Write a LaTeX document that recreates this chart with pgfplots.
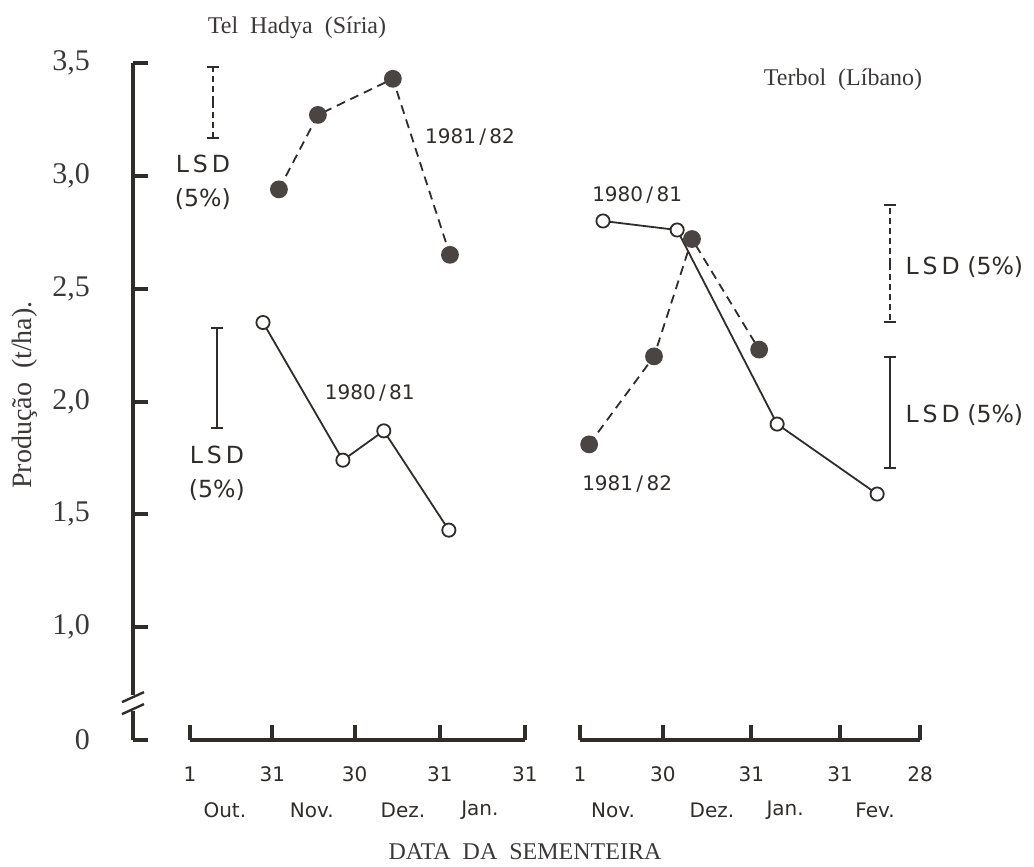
\documentclass[border=0pt]{standalone}
\usepackage{fontspec}
\setmainfont{Liberation Serif}
\newfontfamily\dinfont{DejaVu Sans}
\usepackage{pgfplots}
\pgfplotsset{compat=1.18}
\definecolor{ink}{HTML}{302C2A}
\definecolor{dot}{HTML}{4A4542}
\definecolor{lab}{HTML}{3C3838}

\tikzset{lbl/.style={font=\dinfont\fontsize{10}{12}\selectfont, text=ink},
         lsdl/.style={font=\dinfont\fontsize{11.8}{17}\selectfont, text=ink}}
\pgfplotsset{
  myaxis/.style={
    scale only axis, height=338.5pt, ymin=0.5, ymax=3.5, clip=false,
    axis x line=bottom, axis y line=left, axis line style={draw=none},
    tick align=inside, major tick length=7.5pt,
    tick style={ink, line width=2pt},
    xticklabel style={font=\dinfont\fontsize{10}{12}\selectfont, text=ink, yshift=-10pt},
    yticklabel style={font=\fontsize{15}{18}\selectfont, text=lab, xshift=-18pt},
  },
  openser/.style={ink, line width=0.9pt, mark=*, mark size=3.3pt, mark options={fill=white, draw=ink, solid}},
  fillser/.style={ink, line width=0.9pt, dash pattern=on 4.5pt off 3pt, mark=*, mark size=4pt, mark options={fill=dot, draw=dot, solid}},
  lsd/.style={draw=none, mark=none, error bars/.cd, y dir=both, y explicit,
     error bar style={draw=ink, line width=1pt, #1},
     error mark=-,
     error mark options={draw=ink, line width=1pt, solid, rotate=90, mark size=3pt}},
}

\begin{document}
\begin{tikzpicture}
\path (0,0) rectangle (517pt,432.5pt);

% ---------------- Left panel: Tel Hadya ----------------
\begin{axis}[myaxis, at={(66.5pt,62.5pt)}, anchor=south west, width=203.5pt,
  xmin=-20.76, xmax=127.5,
  xtick={0,30,60,91,122}, xticklabels={1,31,30,31,31},
  ytick={0.5,1,1.5,2,2.5,3,3.5},
  yticklabels={0,{1,0},{1,5},{2,0},{2,5},{3,0},{3,5}},
]
% axis lines with break
\draw[ink, line width=2pt] (axis cs:-20.76,3.5) -- (axis cs:-20.76,0.70);
\draw[ink, line width=1.2pt] ([shift={(-5.5pt,-2.5pt)}]axis cs:-20.76,0.69) -- ([shift={(5.5pt,2.5pt)}]axis cs:-20.76,0.69);
\draw[ink, line width=1.2pt] ([shift={(-5.5pt,-2.5pt)}]axis cs:-20.76,0.637) -- ([shift={(5.5pt,2.5pt)}]axis cs:-20.76,0.637);
\draw[ink, line width=2pt] (axis cs:-20.76,0.63) -- (axis cs:-20.76,0.5);
\draw[ink, line width=2pt] (axis cs:0,0.5) -- (axis cs:122,0.5);

\addplot[openser] coordinates {(26.6,2.35) (55.7,1.74) (70.6,1.87) (94.3,1.43)};
\addplot[fillser] coordinates {(32.4,2.94) (46.6,3.27) (73.9,3.43) (94.7,2.65)};

\addplot[lsd={dash pattern=on 3pt off 2pt}] coordinates {(8.4,3.325) +- (0,0.157)};
\addplot[lsd={solid}] coordinates {(9.8,2.104) +- (0,0.222)};

\node[lsdl, align=center] at (axis cs:4.7,2.97) {L\,S\,D\\(5\%)};
\node[lsdl, align=center] at (axis cs:9.8,1.683) {L\,S\,D\\(5\%)};
\node[lbl] at (axis cs:102,3.172) {1981\,/\,82};
\node[lbl] at (axis cs:65.5,2.037) {1980\,/\,81};

\node[lbl] at (axis cs:12.7,0.19) {Out.};
\node[lbl] at (axis cs:44.4,0.19) {Nov.};
\node[lbl] at (axis cs:77.6,0.19) {Dez.};
\node[lbl] at (axis cs:105.6,0.19) {Jan.};
\end{axis}

% ---------------- Right panel: Terbol ----------------
\begin{axis}[myaxis, at={(280pt,62.5pt)}, anchor=south west, width=190pt,
  xmin=-7, xmax=126,
  xtick={0,29,60,91,119}, xticklabels={1,30,31,31,28},
  ytick=\empty,
]
\draw[ink, line width=2pt] (axis cs:0,0.5) -- (axis cs:119,0.5);

\addplot[openser] coordinates {(8.05,2.80) (34.0,2.76) (69.0,1.90) (104,1.59)};
\addplot[fillser] coordinates {(3.2,1.81) (25.9,2.20) (39.2,2.72) (62.7,2.23)};

\addplot[lsd={dash pattern=on 3pt off 2pt}] coordinates {(108.5,2.611) +- (0,0.259)};
\addplot[lsd={solid}] coordinates {(108.5,1.951) +- (0,0.246)};

\node[lsdl, anchor=west] at (axis cs:111.5,2.596) {L\,S\,D (5\%)};
\node[lsdl, anchor=west] at (axis cs:111.5,1.94) {L\,S\,D (5\%)};
\node[lbl] at (axis cs:20,2.915) {1980\,/\,81};
\node[lbl] at (axis cs:16.5,1.634) {1981\,/\,82};

\node[lbl] at (axis cs:11.6,0.19) {Nov.};
\node[lbl] at (axis cs:46.2,0.19) {Dez.};
\node[lbl] at (axis cs:71.8,0.19) {Jan.};
\node[lbl] at (axis cs:103.3,0.19) {Fev.};
\end{axis}

% titles and axis labels
\node[font=\fontsize{12}{14}\selectfont, text=lab] at (148.5pt,418.5pt) {Tel\ \ Hadya\ \ (Síria)};
\node[font=\fontsize{12}{14}\selectfont, text=lab] at (421.5pt,392.5pt) {Terbol\ \ (Líbano)};
\node[font=\fontsize{12}{14}\selectfont, text=lab] at (262.5pt,6.5pt) {DATA\ \ DA\ \ SEMENTEIRA};
\node[font=\fontsize{14}{16}\selectfont, text=lab, rotate=90] at (12.5pt,235pt) {Produção\ \ (t/ha).};
\end{tikzpicture}
\end{document}
